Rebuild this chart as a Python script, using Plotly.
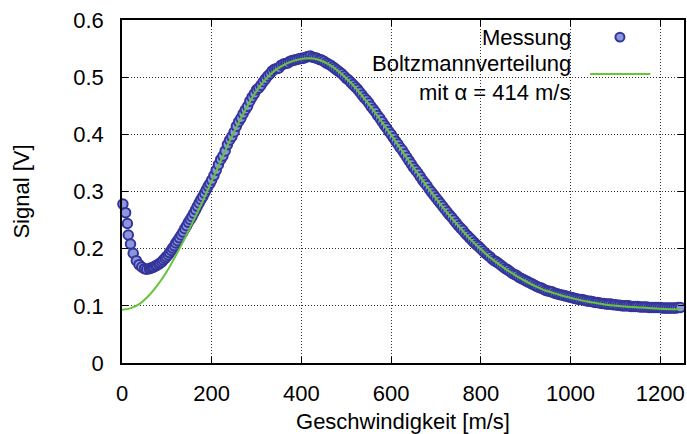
import plotly.graph_objects as go

speed = [2, 8, 12, 14, 19, 25, 32, 38, 44, 50, 55,
         61, 64, 68, 71, 75, 78, 82, 85, 89, 92, 96, 99, 103, 106, 110, 113, 117, 120, 124,
         128, 132, 136, 140, 144, 148, 152, 156, 160, 164, 168, 172, 176, 180, 184, 188, 192, 196, 200,
         205, 210, 215, 220, 225, 230, 235, 240, 245, 250, 255, 260, 265, 270, 275, 280, 285, 290, 295, 300,
         305, 310, 315, 320, 325, 330, 335, 340, 345, 350, 355, 360, 365, 370, 375, 380, 385, 390, 395, 400,
         405, 410, 415, 420, 425, 430, 435, 440, 445, 450, 455, 460, 465, 470, 475, 480, 485, 490, 495, 500,
         505, 510, 515, 520, 525, 530, 535, 540, 545, 550, 555, 560, 565, 570, 575, 580, 585, 590, 595, 600,
         605, 610, 615, 620, 625, 630, 635, 640, 645, 650, 655, 660, 665, 670, 675, 680, 685, 690, 695, 700,
         705, 710, 715, 720, 725, 730, 735, 740, 745, 750, 755, 760, 765, 770, 775, 780, 785, 790, 795, 800,
         805, 810, 815, 820, 825, 830, 835, 840, 845, 850, 855, 860, 865, 870, 875, 880, 885, 890, 895, 900,
         905, 910, 915, 920, 925, 930, 935, 940, 945, 950, 955, 960, 965, 970, 975, 980, 985, 990, 995, 1000,
         1005, 1010, 1015, 1020, 1025, 1030, 1035, 1040, 1045, 1050, 1055, 1060, 1065, 1070, 1075, 1080,
         1085, 1090, 1095, 1100, 1105, 1110, 1115, 1120, 1125, 1130, 1135, 1140, 1145, 1150, 1155, 1160,
         1165, 1170, 1175, 1180, 1185, 1190, 1195, 1200, 1205, 1210, 1215, 1220, 1225, 1230, 1235, 1240, 1245]
signal = [0.278, 0.263, 0.244, 0.224, 0.208, 0.192, 0.179, 0.172, 0.168, 0.165, 0.164,
          0.165, 0.166, 0.167, 0.168, 0.170, 0.171, 0.173,
          0.175, 0.177, 0.180, 0.183, 0.186, 0.189, 0.193, 0.197, 0.201, 0.205, 0.210, 0.214,
          0.219, 0.224, 0.229, 0.235, 0.240, 0.246, 0.251, 0.256, 0.262, 0.268, 0.274, 0.280, 0.286, 0.291,
          0.297, 0.303, 0.309, 0.314, 0.320,
          0.328, 0.337, 0.347, 0.356, 0.362, 0.371, 0.382, 0.390, 0.396, 0.404, 0.414, 0.422, 0.428, 0.436,
          0.443, 0.449, 0.458, 0.465, 0.471, 0.478,
          0.481, 0.486, 0.492, 0.497, 0.502, 0.506, 0.511, 0.514, 0.515, 0.516, 0.521, 0.523, 0.524, 0.525,
          0.528, 0.529, 0.530, 0.531, 0.532, 0.533,
          0.533, 0.535, 0.536, 0.537, 0.535, 0.534, 0.533, 0.531, 0.530, 0.528, 0.525, 0.523, 0.521, 0.518,
          0.515, 0.512, 0.509, 0.506, 0.502, 0.498,
          0.495, 0.491, 0.487, 0.483, 0.479, 0.474, 0.469, 0.464, 0.460, 0.455, 0.449, 0.444, 0.439, 0.433,
          0.428, 0.422, 0.416, 0.411, 0.405, 0.400,
          0.394, 0.388, 0.383, 0.377, 0.372, 0.366, 0.360, 0.354, 0.348, 0.342, 0.337, 0.332, 0.326, 0.320,
          0.315, 0.310, 0.304, 0.299, 0.294, 0.289,
          0.284, 0.279, 0.274, 0.269, 0.264, 0.259, 0.255, 0.250, 0.245, 0.240, 0.236, 0.232, 0.227, 0.223,
          0.219, 0.215, 0.211, 0.207, 0.204, 0.200,
          0.196, 0.192, 0.189, 0.186, 0.182, 0.179, 0.177, 0.174, 0.171, 0.168, 0.165, 0.163, 0.160, 0.157,
          0.155, 0.153, 0.150, 0.148, 0.146, 0.144,
          0.142, 0.140, 0.138, 0.136, 0.134, 0.132, 0.131, 0.129, 0.127, 0.126, 0.125, 0.124, 0.122, 0.121,
          0.120, 0.119, 0.118, 0.117, 0.116, 0.115,
          0.114, 0.113, 0.112, 0.111, 0.111, 0.110, 0.109, 0.108, 0.108, 0.107, 0.106, 0.106, 0.105, 0.104,
          0.104, 0.103,
          0.103, 0.103, 0.102, 0.102, 0.101, 0.101, 0.100, 0.100, 0.100, 0.100, 0.099, 0.099, 0.099, 0.099,
          0.098, 0.098,
          0.098, 0.098, 0.097, 0.097, 0.097, 0.097, 0.097, 0.097, 0.096, 0.096, 0.096, 0.096, 0.096, 0.096,
          0.096, 0.097, 0.097]

# Boltzmann fit curve
fit_speed = [0, 20, 40, 60, 80, 100, 120, 140, 160, 180, 200, 220, 240, 260, 280, 300,
             320, 340, 360, 380, 400, 420, 440, 460, 480, 500, 520, 540, 560, 580, 600,
             620, 640, 660, 680, 700, 720, 740, 760, 780, 800, 820, 840, 860, 880, 900,
             920, 940, 960, 980, 1000, 1040, 1080, 1120, 1160, 1200, 1245]
fit_signal = [0.093, 0.096, 0.104, 0.118, 0.137, 0.160, 0.188, 0.218, 0.250, 0.283, 0.318,
              0.353, 0.388, 0.420, 0.450, 0.476, 0.496, 0.511, 0.521, 0.528, 0.532, 0.533,
              0.530, 0.523, 0.512, 0.498, 0.482, 0.463, 0.443, 0.421, 0.399, 0.376, 0.353,
              0.331, 0.309, 0.288, 0.268, 0.249, 0.231, 0.214, 0.199, 0.185, 0.173, 0.162,
              0.152, 0.143, 0.135, 0.128, 0.123, 0.118, 0.114, 0.107, 0.102, 0.099, 0.097,
              0.095, 0.094]

x_ticks = [0, 200, 400, 600, 800, 1000, 1200]
y_ticks = [0, 0.1, 0.2, 0.3, 0.4, 0.5, 0.6]

label_meas = "Messung"
label_fit1 = "Boltzmannverteilung"
label_fit2 = "mit α = 414 m/s"

FILL = "#8b97dc"
EDGE = "#34359b"
GREEN = "#66c43a"
FONT = "Liberation Sans, Arial, Helvetica, sans-serif"

fig = go.Figure()
fig.add_trace(go.Scatter(
    x=speed, y=signal, mode="markers", cliponaxis=False,
    marker=dict(size=9.5, color=FILL, line=dict(color=EDGE, width=2)),
    showlegend=False))
fig.add_trace(go.Scatter(
    x=fit_speed, y=fit_signal, mode="lines", line_shape="spline",
    line=dict(color=GREEN, width=2), showlegend=False))

axis_common = dict(
    showline=True, linecolor="black", linewidth=1.5, mirror="ticks",
    ticks="inside", ticklen=6, tickwidth=1, tickcolor="black",
    showgrid=True, gridcolor="#333333", gridwidth=1, griddash="1px,2px",
    zeroline=False, automargin=False,
    tickfont=dict(family=FONT, size=22, color="black"),
)

fig.update_xaxes(range=[0, 1253], tickvals=x_ticks, ticklabelstandoff=10,
                 title=dict(text="Geschwindigkeit [m/s]", standoff=15,
                            font=dict(family=FONT, size=22, color="black")),
                 **axis_common)
fig.update_yaxes(range=[0, 0.6], tickvals=y_ticks, ticklabelstandoff=12,
                 title=dict(text="Signal [V]", standoff=38,
                            font=dict(family=FONT, size=22, color="black")),
                 **axis_common)

# legend: white box hiding the grid, texts left of samples
fig.add_shape(type="rect", xref="paper", yref="paper", x0=0.479, x1=1.0, y0=0.743, y1=1.0,
              fillcolor="white", line=dict(width=0), layer="between")
ann_font = dict(family=FONT, size=22, color="black")
fig.add_annotation(xref="paper", yref="paper", x=0.8025, y=0.950, text=label_meas,
                   showarrow=False, xanchor="right", yanchor="middle", font=ann_font)
fig.add_annotation(xref="paper", yref="paper", x=0.8025, y=0.874, text=label_fit1,
                   showarrow=False, xanchor="right", yanchor="middle", font=ann_font)
fig.add_annotation(xref="paper", yref="paper", x=0.8025, y=0.790, text=label_fit2,
                   showarrow=False, xanchor="right", yanchor="middle", font=ann_font)
fig.add_shape(type="circle", xref="paper", yref="paper",
              x0=0.886 - 0.008, x1=0.886 + 0.008, y0=0.950 - 0.013, y1=0.950 + 0.013,
              fillcolor=FILL, line=dict(color=EDGE, width=2), layer="above")
fig.add_shape(type="line", xref="paper", yref="paper", x0=0.833, x1=0.940, y0=0.8426, y1=0.8426,
              line=dict(color=GREEN, width=2), layer="above")

fig.update_layout(
    width=687, height=434, autosize=False,
    margin=dict(l=122, r=3, t=20, b=71),
    paper_bgcolor="white", plot_bgcolor="white",
    font=dict(family=FONT, size=22, color="black"),
)

fig.write_html("out.html")
